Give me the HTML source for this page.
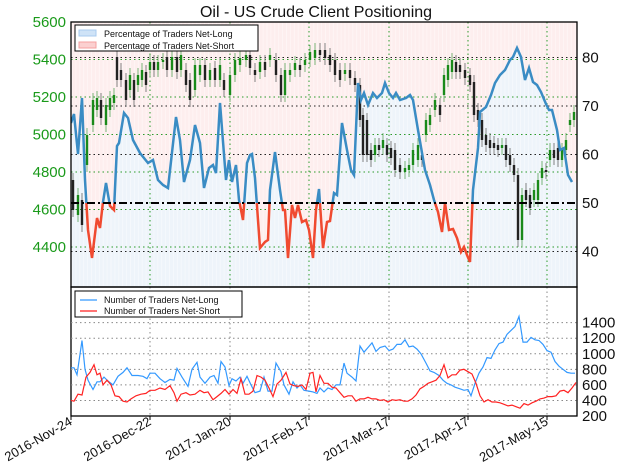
<!DOCTYPE html>
<html><head><meta charset="utf-8"><style>
body{margin:0;background:#fff;}
svg{display:block;font-family:"Liberation Sans","DejaVu Sans",sans-serif;}
</style></head><body>
<svg id="s" width="624" height="467" viewBox="0 0 624 467" xmlns="http://www.w3.org/2000/svg">
<defs>
<clipPath id="top"><rect x="71" y="22" width="506" height="181"/></clipPath>
<clipPath id="bot"><rect x="71" y="203" width="506" height="84"/></clipPath>
<clipPath id="p1"><rect x="71" y="22" width="506" height="265"/></clipPath>
</defs>
<rect width="624" height="467" fill="#fff"/>
<text x="316" y="17" text-anchor="middle" font-size="16" fill="#111">Oil - US Crude Client Positioning</text>
<g id="g"></g>
</svg>
<script>
var NS="http://www.w3.org/2000/svg",g=document.getElementById('g');
function el(t,a,p){var e=document.createElementNS(NS,t);for(var k in a)e.setAttribute(k,a[k]);(p||g).appendChild(e);return e;}
function txt(x,y,s,a){var e=el('text',a);e.setAttribute('x',x);e.setAttribute('y',y);e.textContent=s;return e;}
// pct line (x,y)
var P=[[71,123],[74,114],[78,154],[82,98],[85,180],[88,230],[92,258],[97,218],[100,228],[103,202],[106,183],[110,206],[114,210],[117,146],[119,143],[124,113],[128,118],[133,140],[140,153],[148,163],[153,160],[158,180],[163,185],[168,188],[176,117],[180,140],[184,182],[190,160],[195,125],[200,143],[204,188],[209,168],[213,165],[216,173],[220,103],[226,180],[229,160],[232,182],[236,165],[239,200],[243,220],[247,163],[250,155],[252,154],[255,178],[260,248],[265,242],[268,240],[270,190],[275,152],[280,190],[283,210],[285,210],[288,258],[292,205],[295,218],[298,205],[302,222],[306,220],[309,230],[313,258],[316,210],[319,189],[323,248],[327,222],[330,221],[334,193],[337,195],[342,123],[347,150],[351,170],[354,175],[358,83],[361,100],[364,93],[368,105],[373,93],[377,98],[382,93],[385,83],[389,93],[393,98],[396,93],[400,100],[406,98],[410,95],[413,100],[418,130],[425,170],[430,185],[434,200],[438,212],[442,232],[445,203],[449,230],[453,229],[457,238],[461,252],[464,247],[467,255],[470,262],[473,190],[478,148],[480,112],[486,107],[491,95],[495,83],[500,75],[505,70],[510,60],[513,57],[517,48],[521,57],[525,80],[529,68],[533,82],[537,85],[541,92],[546,104],[549,110],[552,110],[557,130],[560,150],[564,148],[568,175],[572,182]];
var pts=P.map(function(p){return p.join(',')}).join(' ');
var pg=el('g',{'clip-path':'url(#p1)'});
el('polygon',{points:'71,22 '+pts+' 577,182 577,22',fill:'#fdeeee'},pg);
el('polygon',{points:'71,287 '+pts+' 577,182 577,287',fill:'#eef4fa'},pg);
for(var x=72;x<577;x+=3.9)el('line',{x1:x,y1:22,x2:x,y2:287,stroke:'#fff','stroke-width':0.8,opacity:0.5},pg);
// grids
var dx=[71,150,230,309,389,468,547];
dx.forEach(function(x){el('line',{x1:x,y1:22,x2:x,y2:287,stroke:'#2a9a2a','stroke-dasharray':'1.5,3','stroke-width':1});
 el('line',{x1:x,y1:287,x2:x,y2:416,stroke:'#888','stroke-dasharray':'1.5,3','stroke-width':1});});
[5600,5400,5200,5000,4800,4600,4400].forEach(function(v){var y=22+(5600-v)*0.1875;
 if(v<5600)el('line',{x1:71,y1:y,x2:577,y2:y,stroke:'#2a9a2a','stroke-dasharray':'1.5,3','stroke-width':1});
 txt(66,y+5,v,{'text-anchor':'end','font-size':15,fill:'#1a9a1a'});});
[80,70,60,40].forEach(function(v){var y=203-(v-50)*4.85;
 el('line',{x1:71,y1:y,x2:577,y2:y,stroke:'#222','stroke-dasharray':'1.5,3','stroke-width':1});});
[80,70,60,50,40].forEach(function(v){var y=203-(v-50)*4.85;txt(582,y+5,v,{'font-size':15,fill:'#111'});});
// candles
var C=[[73,180,210,'b'],[78,195,215,'g'],[82,225,200,'b'],[87,165,135,'g'],[93,125,100,'g'],[97,110,98,'g'],[101,100,118,'b'],[106,125,105,'g'],[110,110,98,'g'],[114,103,95,'g'],[117,57,80,'b'],[121,70,80,'b'],[126,80,100,'b'],[130,90,75,'g'],[134,80,100,'b'],[138,85,75,'g'],[142,80,70,'g'],[146,72,85,'b'],[150,70,62,'g'],[154,62,70,'b'],[158,70,62,'g'],[163,62,60,'g'],[167,57,70,'b'],[172,70,57,'g'],[177,57,72,'b'],[181,70,55,'g'],[186,70,85,'b'],[190,80,100,'b'],[195,90,65,'g'],[200,75,65,'g'],[205,65,80,'b'],[210,80,70,'g'],[215,68,80,'b'],[220,80,65,'g'],[224,80,90,'b'],[230,95,75,'g'],[235,75,60,'g'],[240,65,58,'g'],[246,60,55,'g'],[250,55,68,'b'],[255,70,75,'b'],[260,72,62,'g'],[265,62,70,'b'],[270,60,55,'g'],[276,60,75,'b'],[281,75,95,'b'],[285,95,70,'g'],[290,75,70,'g'],[295,70,63,'g'],[300,65,70,'b'],[305,65,60,'g'],[310,60,52,'g'],[315,58,50,'g'],[320,50,55,'b'],[325,50,58,'b'],[330,55,65,'b'],[335,60,75,'b'],[340,70,80,'b'],[345,74,70,'g'],[350,70,78,'b'],[355,78,85,'b'],[360,85,120,'b'],[363,115,155,'b'],[367,120,155,'b'],[371,150,160,'b'],[375,155,145,'g'],[379,145,150,'b'],[383,148,140,'g'],[387,145,155,'b'],[391,148,158,'b'],[395,150,170,'b'],[400,165,172,'b'],[405,172,168,'g'],[409,170,165,'g'],[413,165,150,'g'],[418,160,145,'g'],[422,155,160,'b'],[426,135,120,'g'],[430,125,115,'g'],[435,110,100,'g'],[440,105,115,'b'],[444,95,75,'g'],[448,80,65,'g'],[452,72,60,'g'],[456,62,72,'b'],[460,65,72,'b'],[465,70,78,'b'],[470,75,85,'b'],[474,82,115,'b'],[478,110,120,'b'],[482,120,140,'b'],[486,135,145,'b'],[490,140,148,'b'],[494,143,148,'b'],[498,145,150,'b'],[502,148,145,'g'],[506,145,160,'b'],[510,155,165,'b'],[514,165,175,'b'],[518,175,240,'b'],[522,240,195,'g'],[526,190,200,'b'],[530,195,208,'b'],[534,200,190,'g'],[538,200,180,'g'],[542,178,168,'g'],[546,170,172,'b'],[550,160,150,'g'],[554,150,158,'b'],[558,148,160,'b'],[562,160,150,'g'],[566,150,140,'g'],[570,125,120,'g'],[574,120,112,'g']];
C.forEach(function(c){var t=Math.min(c[1],c[2]),b=Math.max(c[1],c[2]),col=c[3]=='g'?'#1a8a1a':'#222';
 el('line',{x1:c[0],y1:t-7,x2:c[0],y2:b+7,stroke:c[3]=='g'?'#5aa55a':'#666','stroke-width':0.8});
 el('rect',{x:c[0]-1.2,y:t,width:2.4,height:Math.max(b-t,1),fill:col});});
el('polyline',{points:pts,fill:'none',stroke:'#3a8cc4','stroke-width':2.5,'clip-path':'url(#top)'});
el('polyline',{points:pts,fill:'none',stroke:'#f04a30','stroke-width':2.5,'clip-path':'url(#bot)'});
// 50 line
el('line',{x1:71,y1:203,x2:577,y2:203,stroke:'#000','stroke-width':2,'stroke-dasharray':'8,3,2,3'});
// panel boxes
el('rect',{x:71,y:22,width:506,height:265,fill:'none',stroke:'#000','stroke-width':1.3});
el('rect',{x:71,y:287,width:506,height:129,fill:'none',stroke:'#000','stroke-width':1.3});
// top legend
el('rect',{x:75,y:25,width:183,height:26,fill:'#fff',stroke:'#000','stroke-width':1});
el('rect',{x:79,y:30,width:17,height:6,fill:'#cfe3f7',stroke:'#a8cbef'});
el('rect',{x:79,y:42,width:17,height:6,fill:'#fbd0d0',stroke:'#f4a0a0'});
txt(104,37,'Percentage of Traders Net-Long',{'font-size':9,fill:'#111'});
txt(104,49,'Percentage of Traders Net-Short',{'font-size':9,fill:'#111'});
// bottom
[1400,1200,1000,800,600,400,200].forEach(function(v){var y=416-(v-200)*0.0778;
 if(v>200)el('line',{x1:71,y1:y,x2:577,y2:y,stroke:'#888','stroke-dasharray':'1.5,3','stroke-width':1});
 txt(582,y+5,v,{'font-size':15,fill:'#111'});});
var L=[[71,820],[74,820],[77,730],[82,1170],[85,800],[88,660],[93,540],[97,640],[100,640],[104,700],[108,650],[113,600],[118,710],[123,760],[127,820],[132,720],[138,720],[143,710],[147,680],[150,750],[155,750],[160,680],[165,630],[170,670],[174,660],[177,810],[182,700],[188,580],[192,800],[197,890],[200,700],[205,620],[210,700],[214,720],[218,620],[221,900],[225,830],[229,590],[232,680],[236,650],[240,700],[243,620],[247,710],[251,600],[255,500],[260,520],[264,700],[268,520],[272,520],[276,880],[281,770],[284,600],[289,480],[293,640],[297,560],[300,600],[304,530],[309,520],[313,510],[317,490],[320,560],[324,510],[328,560],[332,540],[336,600],[340,600],[344,880],[347,750],[352,700],[356,650],[360,1100],[364,1020],[368,1080],[372,1140],[376,1030],[380,1080],[385,1100],[389,1040],[393,1060],[397,1120],[401,1120],[405,1180],[409,1090],[413,1100],[417,1060],[421,1000],[426,880],[430,780],[434,760],[439,720],[443,660],[447,620],[451,600],[455,570],[460,550],[464,530],[468,540],[471,460],[475,620],[479,750],[483,830],[487,950],[491,940],[495,1050],[499,1130],[503,1150],[507,1250],[511,1300],[515,1350],[519,1480],[523,1150],[527,1150],[531,1210],[535,1180],[539,1170],[543,1120],[547,1040],[551,1020],[555,900],[559,840],[563,800],[567,760],[571,750],[575,750]];
var S=[[71,400],[74,390],[78,480],[82,470],[86,700],[90,760],[94,860],[97,730],[100,750],[103,600],[107,660],[111,600],[115,460],[119,450],[123,390],[127,380],[131,420],[136,460],[141,480],[146,490],[150,530],[155,530],[160,560],[165,540],[170,590],[174,500],[177,390],[181,480],[186,500],[190,470],[195,480],[200,530],[204,500],[208,510],[213,410],[217,450],[221,490],[225,540],[229,480],[233,540],[237,490],[241,680],[245,480],[249,480],[253,520],[257,720],[261,700],[265,660],[269,560],[273,450],[277,610],[281,660],[286,760],[290,610],[294,590],[298,580],[302,600],[306,540],[310,750],[313,760],[316,510],[320,720],[324,620],[328,620],[332,570],[336,560],[340,500],[344,440],[348,460],[352,460],[356,390],[360,420],[364,420],[368,440],[372,420],[376,420],[380,400],[384,410],[388,380],[392,410],[396,400],[400,410],[404,390],[408,390],[412,420],[416,470],[420,550],[424,580],[428,620],[432,640],[436,660],[440,720],[444,860],[448,690],[452,730],[456,730],[460,790],[464,800],[468,770],[472,740],[476,620],[480,460],[484,380],[488,410],[492,380],[496,380],[500,370],[504,350],[508,330],[512,340],[516,320],[520,300],[524,360],[528,340],[532,370],[536,390],[540,420],[544,430],[548,450],[552,450],[556,460],[560,520],[564,530],[568,500],[572,560],[576,630]];
function pl(a){return a.map(function(p){return p[0]+','+(416-(p[1]-200)*0.0778).toFixed(1)}).join(' ');}
el('polyline',{points:pl(L),fill:'none',stroke:'#3399ff','stroke-width':1.2});
el('polyline',{points:pl(S),fill:'none',stroke:'#ff2222','stroke-width':1.2});
el('rect',{x:75,y:291,width:167,height:26,fill:'#fff',stroke:'#000','stroke-width':1});
el('line',{x1:80,y1:300,x2:97,y2:300,stroke:'#3399ff','stroke-width':1.2});
el('line',{x1:80,y1:311,x2:97,y2:311,stroke:'#ff2222','stroke-width':1.2});
txt(104,303,'Number of Traders Net-Long',{'font-size':9,fill:'#111'});
txt(104,314,'Number of Traders Net-Short',{'font-size':9,fill:'#111'});
// dates
['2016-Nov-24','2016-Dec-22','2017-Jan-20','2017-Feb-17','2017-Mar-17','2017-Apr-17','2017-May-15'].forEach(function(d,i){
 var x=dx[i];el('line',{x1:x,y1:416,x2:x,y2:420,stroke:'#000'});
 txt(x+2,424,d,{'font-size':13,fill:'#111','text-anchor':'end',transform:'rotate(-30 '+(x+2)+' 424)'});});
</script>
</body></html>
